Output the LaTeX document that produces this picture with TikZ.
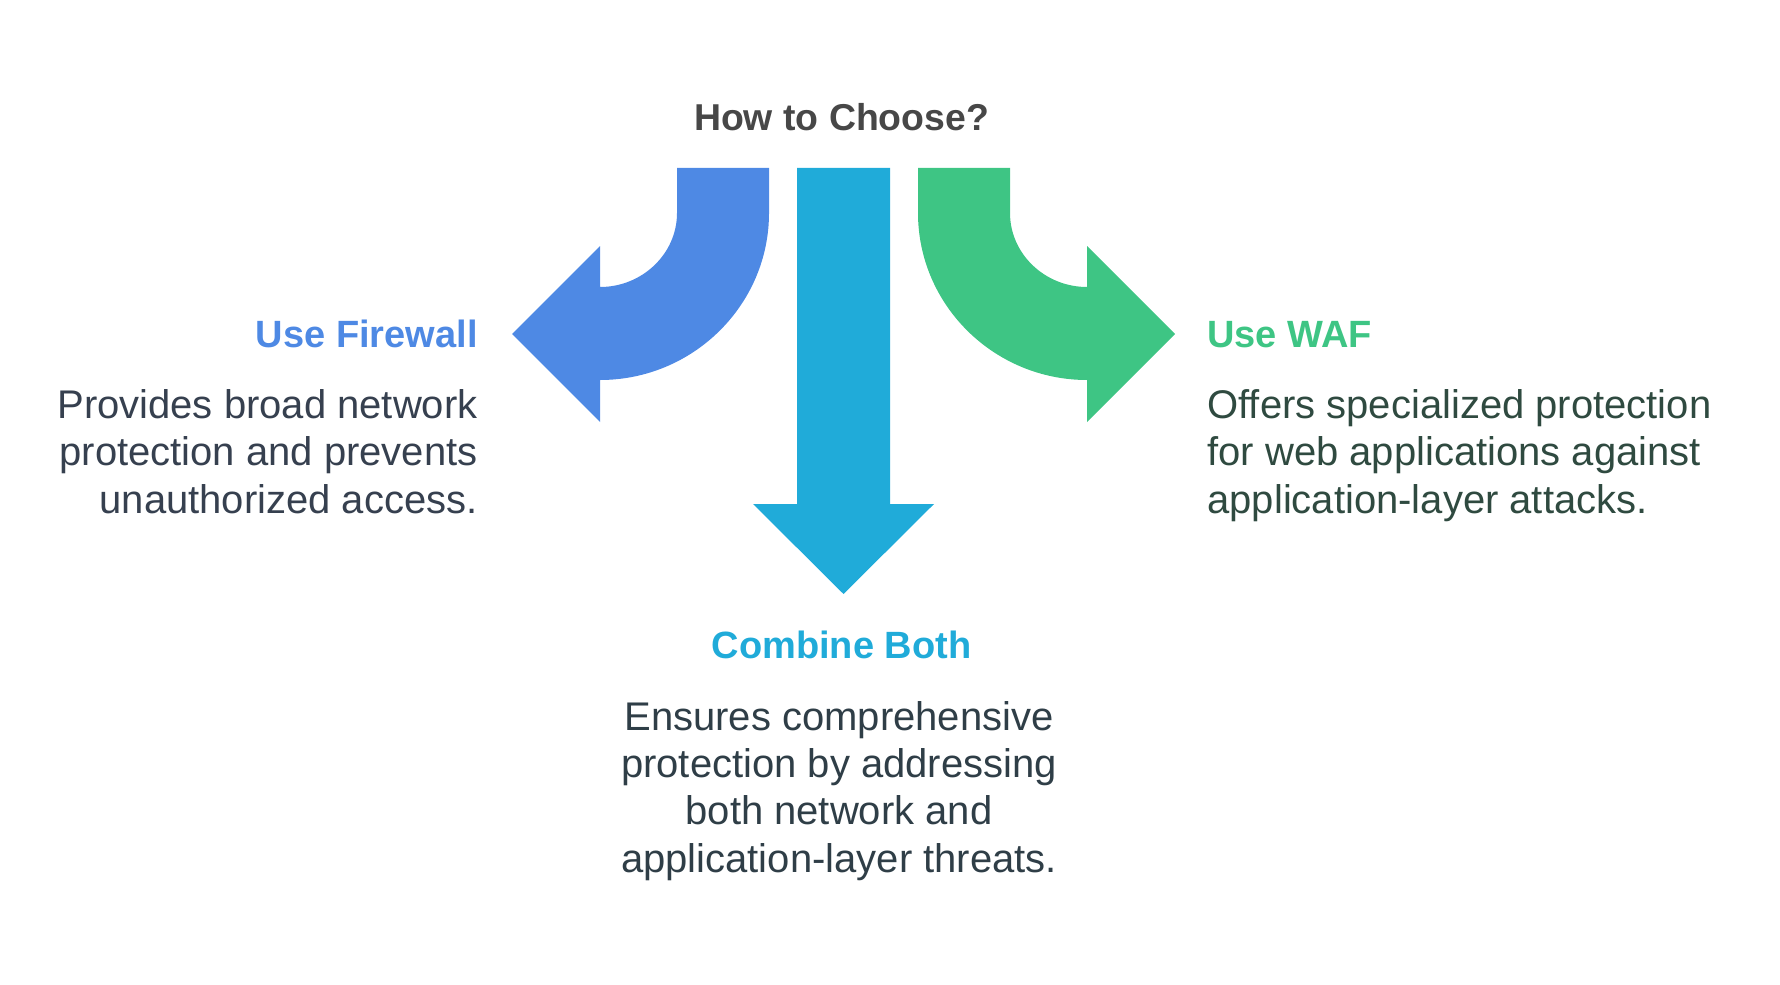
\documentclass[tikz,border=0pt]{standalone}
\usepackage{fontspec}
\setmainfont{Liberation Sans}
\usetikzlibrary{positioning}

\definecolor{fwblue}{HTML}{4E89E4}
\definecolor{bothcyan}{HTML}{20ABD9}
\definecolor{wafgreen}{HTML}{3EC584}
\definecolor{titlegray}{HTML}{474747}
\definecolor{fwtext}{HTML}{36404F}
\definecolor{waftext}{HTML}{2F4A40}
\definecolor{bothtext}{HTML}{2F3E47}

\begin{document}
\begin{tikzpicture}[x=0.5pt, y=-0.5pt,
    head/.style={inner sep=0pt, font=\fontsize{19}{23}\selectfont\bfseries},
    body/.style={inner sep=0pt, font=\fontsize{20}{23.6}\selectfont}]
  \useasboundingbox (0,0) rectangle (1780,984);

  % Arrows
  \fill[fwblue] (677,168) -- (769,168) -- (769,213)
      .. controls (769,305) and (693,380) .. (600,380)
      -- (600,422) -- (512,334) -- (600,246) -- (600,287)
      .. controls (642,287) and (677,254) .. (677,213) -- cycle;
  \fill[bothcyan] (797,168) -- (890,168) -- (890,504) -- (934,504)
      -- (843.5,594) -- (753,504) -- (797,504) -- cycle;
  \fill[wafgreen] (1010,168) -- (918,168) -- (918,213)
      .. controls (918,305) and (994,380) .. (1087,380)
      -- (1087,422) -- (1175,334) -- (1087,246) -- (1087,287)
      .. controls (1045,287) and (1010,254) .. (1010,213) -- cycle;

  % Labels (multi-line nodes sit on their last baseline)
  \node[head, text=titlegray, anchor=base, font=\fontsize{18.7}{23}\selectfont\bfseries]
    (title) at (841.5,131) {How to Choose?};

  \node[head, text=fwblue, anchor=base east] (fwhead) at (478,347) {Use Firewall};
  \node[body, text=fwtext, anchor=base east, align=right] (fwbody) at (478,513)
    {Provides broad network\\protection and prevents\\unauthorized access.};

  \node[head, text=wafgreen, anchor=base west] (wafhead) at (1207,347) {Use WAF};
  \node[body, text=waftext, anchor=base west, align=left] (wafbody) at (1207,513)
    {Offers specialized protection\\for web applications against\\application-layer attacks.};

  \node[head, text=bothcyan, anchor=base] (bothhead) at (841.5,658) {Combine Both};
  \node[body, text=bothtext, anchor=base, align=center] (bothbody) at (839,872)
    {Ensures comprehensive\\protection by addressing\\both network and\\application-layer threats.};
\end{tikzpicture}
\end{document}
